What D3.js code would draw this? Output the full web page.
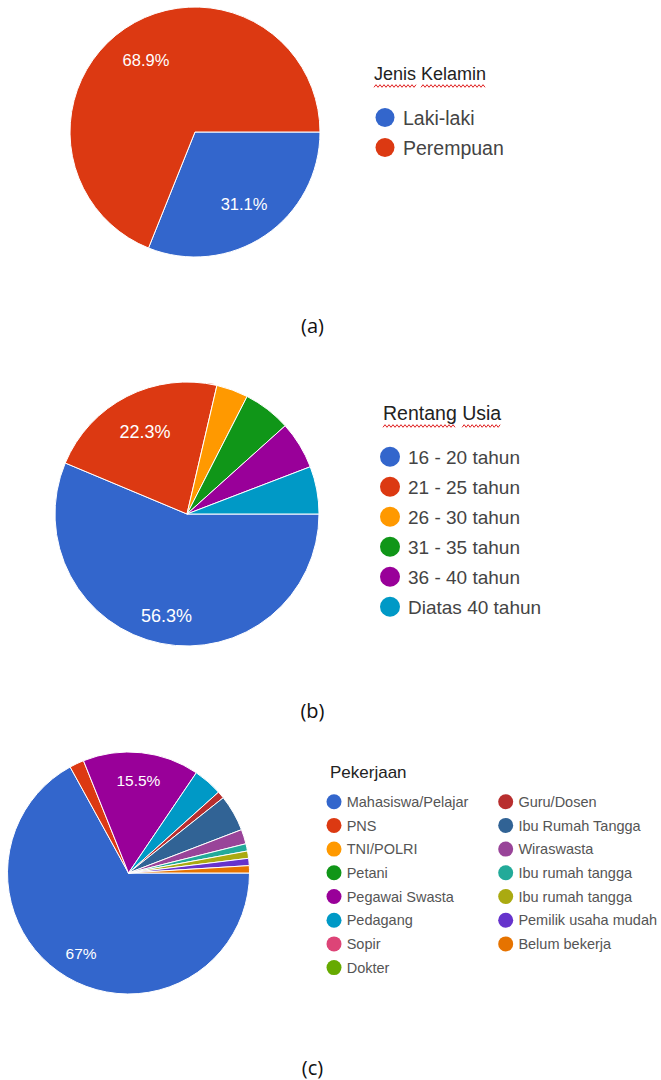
<!DOCTYPE html>
<html>
<head>
<meta charset="utf-8">
<script src="https://cdn.jsdelivr.net/npm/d3@7"></script>
<style>
  html, body { margin: 0; padding: 0; background: #fff; }
  svg { display: block; }
  text.lib { font-family: "Liberation Sans", Arial, sans-serif; }
</style>
</head>
<body>
<svg id="chart" width="661" height="1080"></svg>
<script>
// ---------- DATA ----------
const genderTitle = "Jenis Kelamin";
const genderCategories = ["Laki-laki", "Perempuan"];
const genderValues = [32, 71];

const ageTitle = "Rentang Usia";
const ageCategories = ["16 - 20 tahun", "21 - 25 tahun", "26 - 30 tahun", "31 - 35 tahun", "36 - 40 tahun", "Diatas 40 tahun"];
const ageValues = [58, 23, 4, 6, 6, 6];

const jobTitle = "Pekerjaan";
const jobCategories = ["Mahasiswa/Pelajar", "PNS", "TNI/POLRI", "Petani", "Pegawai Swasta", "Pedagang", "Sopir", "Dokter",
  "Guru/Dosen", "Ibu Rumah Tangga", "Wiraswasta", "Ibu rumah tangga", "Ibu rumah tangga", "Pemilik usaha mudah", "Belum bekerja"];
const jobValues = [69, 2, 0, 0, 16, 4, 0, 0, 1, 5, 2, 1, 1, 1, 1];

const captions = ["(a)", "(b)", "(c)"];

const palette = ["#3366cc", "#dc3912", "#ff9900", "#109618", "#990099", "#0099c6", "#dd4477", "#66aa00",
  "#b82e2e", "#316395", "#994499", "#22aa99", "#aaaa11", "#6633cc", "#e67300"];

// ---------- DRAW ----------
const svg = d3.select("#chart");
svg.append("rect").attr("width", 661).attr("height", 1080).attr("fill", "#fff");
const pct = d3.format(".1~f");

function drawPie(cfg) {
  const { cats, vals, cx, cy, r, labelRatio } = cfg;
  const color = d3.scaleOrdinal().domain(cats.map((c, i) => i)).range(palette);
  const total = d3.sum(vals);
  const pie = d3.pie().sort(null).value(d => d.v)
    .startAngle(Math.PI / 2).endAngle(Math.PI / 2 + 2 * Math.PI);
  const arcs = pie(vals.map((v, i) => ({ v, i })));
  const arc = d3.arc().innerRadius(0).outerRadius(r);
  const g = svg.append("g").attr("transform", `translate(${cx},${cy})`);
  g.selectAll("path").data(arcs.filter(a => a.data.v > 0)).join("path")
    .attr("d", arc)
    .attr("fill", d => color(d.data.i))
    .attr("stroke", "#fff")
    .attr("stroke-width", 1)
    .attr("stroke-linejoin", "round");
  const big = arcs.filter(a => a.data.v / total > 0.1);
  g.selectAll("text").data(big).join("text")
    .attr("class", "lib")
    .each(function (d) {
      const lr = Array.isArray(labelRatio) ? labelRatio[d.index] : labelRatio;
      const la = d3.arc().innerRadius(r * lr).outerRadius(r * lr);
      const [x, y] = la.centroid(d);
      d3.select(this).attr("x", x).attr("y", y);
    })
    .attr("text-anchor", "middle")
    .attr("dominant-baseline", "central")
    .attr("fill", "#fff")
    .attr("font-size", cfg.labelSize)
    .text(d => pct(d.data.v / total * 100) + "%");
}

function wavy(x0, x1, y) {
  const pts = [];
  const period = 4, amp = 1.3;
  for (let x = x0; x <= x1; x += period / 2) {
    pts.push([x, y + (pts.length % 2 === 0 ? amp : -amp)]);
  }
  svg.append("path")
    .attr("d", d3.line()(pts))
    .attr("fill", "none")
    .attr("stroke", "#e02020")
    .attr("stroke-width", 1);
}

function drawTitle(text, x, y, size, underline) {
  const t = svg.append("text")
    .attr("class", "lib")
    .attr("x", x).attr("y", y)
    .attr("font-size", size)
    .attr("fill", "#222")
    .text(text);
  if (underline) {
    const node = t.node();
    let idx = 0;
    text.split(" ").forEach(w => {
      const off = idx > 0 ? node.getSubStringLength(0, idx) : 0;
      const wl = node.getSubStringLength(idx, w.length);
      wavy(x + off, x + off + wl, y + 6);
      idx += w.length + 1;
    });
  }
}

function drawLegend(cfg) {
  const { cats, x, y0, step, r, size, textColor, textDx } = cfg;
  const color = d3.scaleOrdinal().domain(cats.map((c, i) => i)).range(palette);
  const g = svg.append("g");
  const items = g.selectAll("g").data(cats.map((c, i) => ({ c, i }))).join("g")
    .attr("transform", d => {
      const col = cfg.perCol ? Math.floor(d.i / cfg.perCol) : 0;
      const row = cfg.perCol ? d.i % cfg.perCol : d.i;
      return `translate(${x + col * (cfg.colDx || 0)},${y0 + row * step})`;
    });
  items.append("circle").attr("r", r).attr("fill", d => color(d.i));
  items.append("text")
    .attr("class", "lib")
    .attr("x", textDx)
    .attr("y", size * 0.36)
    .attr("font-size", size)
    .attr("fill", textColor)
    .text(d => d.c);
}

function caption(text, y) {
  svg.append("text")
    .attr("x", 312.5).attr("y", y)
    .attr("text-anchor", "middle")
    .attr("font-family", "'Open Sans', 'DejaVu Sans', sans-serif")
    .attr("font-size", 20)
    .attr("fill", "#111")
    .text(text);
}

// (a)
drawPie({ cats: genderCategories, vals: genderValues, cx: 195, cy: 132, r: 125, labelRatio: 0.7, labelSize: 16.5 });
drawTitle(genderTitle, 374, 80, 18, true);
drawLegend({ cats: genderCategories, x: 385, y0: 117.5, step: 30, r: 9.5, size: 19.5, textColor: "#444", textDx: 18 });
caption(captions[0], 333);

// (b)
drawPie({ cats: ageCategories, vals: ageValues, cx: 187, cy: 514, r: 132, labelRatio: [0.79, 0.7], labelSize: 18 });
drawTitle(ageTitle, 383, 420, 19.5, true);
drawLegend({ cats: ageCategories, x: 390, y0: 456.7, step: 30, r: 10, size: 19, textColor: "#444", textDx: 18 });
caption(captions[1], 718);

// (c)
drawPie({ cats: jobCategories, vals: jobValues, cx: 128.5, cy: 873, r: 121, labelRatio: 0.77, labelSize: 15.5 });
drawTitle(jobTitle, 330, 778, 17, false);
drawLegend({ cats: jobCategories, x: 334, y0: 801.7, step: 23.7, r: 7.5, size: 14.5, textColor: "#555", textDx: 12.7, perCol: 8, colDx: 171.7 });
caption(captions[2], 1075);
</script>
</body>
</html>
